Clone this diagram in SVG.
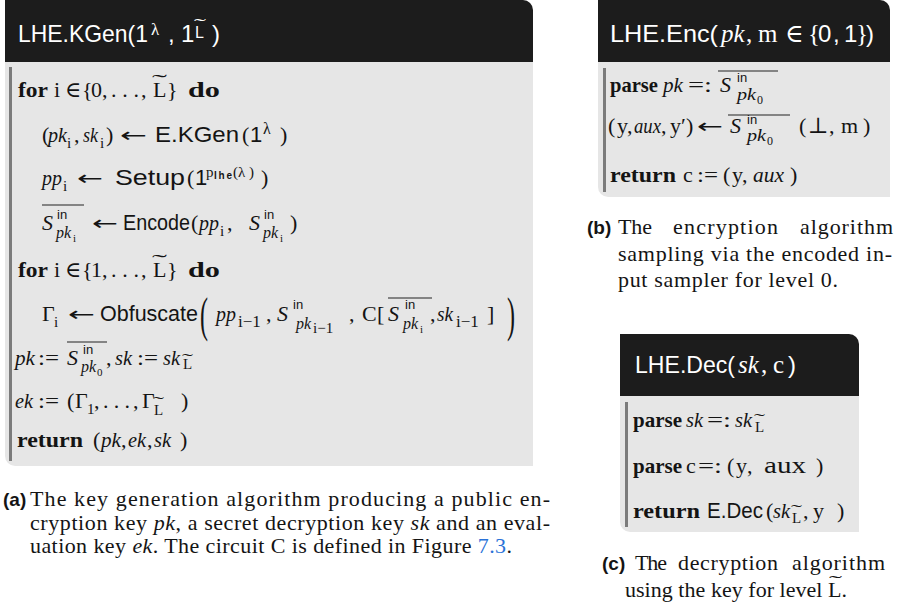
<svg xmlns="http://www.w3.org/2000/svg" width="899" height="608" viewBox="0 0 899 608">
<style>
.hd{fill:#1c1c1c}
.bd{fill:#e6e6e6}
.bar{fill:#7b7b7b}
text{font-family:"Liberation Serif","DejaVu Serif",serif;font-size:22px;fill:#141414}
.h{font-family:"Liberation Sans","DejaVu Sans",sans-serif;font-size:24px;fill:#fff}
.hs{font-size:25px;fill:#fff}
.sf{font-family:"Liberation Sans","DejaVu Sans",sans-serif;font-size:22px}
.ar{font-family:"DejaVu Sans",sans-serif;font-size:20px}
.it{font-style:italic}
.b{font-weight:bold}
.s{font-size:15px}
.ss{font-size:11px}
.in{font-family:"Liberation Sans","DejaVu Sans",sans-serif;font-size:13px}
.lhe{font-family:"Liberation Sans","DejaVu Sans",sans-serif;font-size:10px;font-weight:bold}
.ol{stroke:#222;stroke-width:1.2}
.lab{font-family:"Liberation Sans","DejaVu Sans",sans-serif;font-weight:bold;font-size:19px}
.lnk{fill:#2a72d8}
</style>

<g id="panel-a">
  <path class="hd" d="M5,0 H523 A10,10 0 0 1 533,10 V62 H5 Z"/>
  <path class="bd" d="M5,62 H533 V466 H15 A10,10 0 0 1 5,456 Z"/>
  <rect class="bar" x="9" y="67" width="3" height="394"/>
  <g id="a-title">
    <text class="h" x="18" y="42" textLength="130" lengthAdjust="spacingAndGlyphs">LHE.KGen(1</text>
    <text class="hs" x="151" y="35" style="font-size:17px">λ</text>
    <text class="h" x="168" y="42">,</text>
    <text class="h" x="181" y="42">1</text>
    <text class="h" x="195" y="38" style="font-size:16px">L</text>
    <text class="hs" x="194" y="30" style="font-size:16px" textLength="12" lengthAdjust="spacingAndGlyphs">˜</text>
    <text class="h" x="212" y="42">)</text>
  </g>
  <g id="a-line1">
    <text class="b" x="18" y="97" textLength="30" lengthAdjust="spacingAndGlyphs">for</text>
    <text x="54" y="97">i</text>
    <text x="65" y="97">∈</text>
    <text x="82" y="97">{</text>
    <text x="91" y="97">0</text>
    <text x="102" y="97">,</text>
    <text x="111" y="97" textLength="28">...</text>
    <text x="141" y="97">,</text>
    <text x="153" y="97">L</text>
    <text x="152" y="89" textLength="15" lengthAdjust="spacingAndGlyphs">˜</text>
    <text x="167" y="97">}</text>
    <text class="b" x="188" y="97" textLength="32" lengthAdjust="spacingAndGlyphs">do</text>
  </g>
  <g id="a-line2">
    <text x="42" y="142">(</text>
    <text class="it" x="48" y="142" textLength="19" lengthAdjust="spacingAndGlyphs">pk</text>
    <text class="s" x="67" y="148">i</text>
    <text x="74" y="142">,</text>
    <text class="it" x="83" y="142" textLength="15" lengthAdjust="spacingAndGlyphs">sk</text>
    <text class="s" x="100" y="148">i</text>
    <text x="106" y="142">)</text>
    <text class="ar" x="120" y="142" textLength="27" lengthAdjust="spacingAndGlyphs">←</text>
    <text class="sf" x="155" y="142" textLength="84" lengthAdjust="spacingAndGlyphs">E.KGen</text>
    <text x="242" y="142">(</text>
    <text class="sf" x="250" y="142">1</text>
    <text x="263" y="134" style="font-size:16px">λ</text>
    <text x="280" y="142">)</text>
  </g>
  <g id="a-line3">
    <text class="it" x="42" y="185" textLength="20" lengthAdjust="spacingAndGlyphs">pp</text>
    <text class="s" x="63" y="191">i</text>
    <text class="ar" x="77" y="185" textLength="26" lengthAdjust="spacingAndGlyphs">←</text>
    <text class="sf" x="115" y="185" textLength="70" lengthAdjust="spacingAndGlyphs">Setup</text>
    <text x="187" y="185">(</text>
    <text class="sf" x="195" y="185">1</text>
    <text class="s" x="206" y="177">p</text>
    <text class="lhe" x="214" y="179" textLength="18">lhe</text>
    <text class="s" x="233" y="177">(</text>
    <text class="s" x="238" y="177">λ</text>
    <text class="s" x="249" y="177">)</text>
    <text x="261" y="185">)</text>
  </g>
  <g id="a-line4">
    <line class="ol" x1="42" y1="205" x2="84" y2="205"/>
    <text class="it" x="42" y="230">S</text>
    <text class="in" x="57" y="219">in</text>
    <text class="it" x="56" y="238" style="font-size:16px">pk</text>
    <text class="ss" x="73" y="242">i</text>
    <text class="ar" x="92" y="230" textLength="26" lengthAdjust="spacingAndGlyphs">←</text>
    <text class="sf" x="123" y="230" textLength="67" lengthAdjust="spacingAndGlyphs">Encode</text>
    <text x="191" y="230">(</text>
    <text class="it" x="199" y="230" textLength="20" lengthAdjust="spacingAndGlyphs">pp</text>
    <text class="s" x="220" y="236">i</text>
    <text x="227" y="230">,</text>
    <text class="it" x="249" y="230">S</text>
    <text class="in" x="264" y="219">in</text>
    <text class="it" x="263" y="238" style="font-size:16px">pk</text>
    <text class="ss" x="280" y="242">i</text>
    <text x="290" y="230">)</text>
  </g>
  <g id="a-line5">
    <text class="b" x="18" y="277" textLength="30" lengthAdjust="spacingAndGlyphs">for</text>
    <text x="54" y="277">i</text>
    <text x="65" y="277">∈</text>
    <text x="82" y="277">{</text>
    <text x="91" y="277">1</text>
    <text x="102" y="277">,</text>
    <text x="111" y="277" textLength="28">...</text>
    <text x="141" y="277">,</text>
    <text x="153" y="277">L</text>
    <text x="152" y="269" textLength="15" lengthAdjust="spacingAndGlyphs">˜</text>
    <text x="167" y="277">}</text>
    <text class="b" x="188" y="277" textLength="32" lengthAdjust="spacingAndGlyphs">do</text>
  </g>
  <g id="a-line6">
    <text x="42" y="321">Γ</text>
    <text class="s" x="54" y="327">i</text>
    <text class="ar" x="68" y="321" textLength="27" lengthAdjust="spacingAndGlyphs">←</text>
    <text class="sf" x="100" y="321" textLength="98" lengthAdjust="spacingAndGlyphs">Obfuscate</text>
    <text transform="translate(200,331) scale(1,2)" style="font-size:24px">(</text>
    <text class="it" x="216" y="321" textLength="20" lengthAdjust="spacingAndGlyphs">pp</text>
    <text x="238" y="327" style="font-size:17px">i−1</text>
    <text x="266" y="321">,</text>
    <text class="it" x="277" y="321">S</text>
    <text class="in" x="293" y="309">in</text>
    <text class="it" x="296" y="329" style="font-size:16px">pk</text>
    <text x="313" y="333" style="font-size:15px">i−1</text>
    <text x="349" y="321">,</text>
    <text x="362" y="321">C</text>
    <text x="377" y="321">[</text>
    <line class="ol" x1="388" y1="298" x2="432" y2="298"/>
    <text class="it" x="388" y="321">S</text>
    <text class="in" x="405" y="309">in</text>
    <text class="it" x="403" y="329" style="font-size:16px">pk</text>
    <text class="ss" x="420" y="333">i</text>
    <text x="430" y="321">,</text>
    <text class="it" x="437" y="321" textLength="16" lengthAdjust="spacingAndGlyphs">sk</text>
    <text x="456" y="327" style="font-size:17px">i−1</text>
    <text x="487" y="321">]</text>
    <text transform="translate(507,331) scale(1,2)" style="font-size:24px">)</text>
  </g>
  <g id="a-line7">
    <text class="it" x="15" y="365" textLength="20" lengthAdjust="spacingAndGlyphs">pk</text>
    <text x="38" y="365" textLength="21" lengthAdjust="spacingAndGlyphs">:=</text>
    <line class="ol" x1="67" y1="342" x2="107" y2="342"/>
    <text class="it" x="67" y="365">S</text>
    <text class="in" x="83" y="354">in</text>
    <text class="it" x="81" y="372" style="font-size:16px">pk</text>
    <text class="ss" x="97" y="376">0</text>
    <text x="106" y="365">,</text>
    <text class="it" x="115" y="365" textLength="17" lengthAdjust="spacingAndGlyphs">sk</text>
    <text x="137" y="365" textLength="21" lengthAdjust="spacingAndGlyphs">:=</text>
    <text class="it" x="163" y="365" textLength="17" lengthAdjust="spacingAndGlyphs">sk</text>
    <text class="s" x="183" y="369">L</text>
    <text class="s" x="182" y="364" textLength="11" lengthAdjust="spacingAndGlyphs">˜</text>
  </g>
  <g id="a-line8">
    <text class="it" x="15" y="408" textLength="18" lengthAdjust="spacingAndGlyphs">ek</text>
    <text x="38" y="408" textLength="21" lengthAdjust="spacingAndGlyphs">:=</text>
    <text x="67" y="408">(</text>
    <text x="75" y="408">Γ</text>
    <text class="s" x="87" y="414">1</text>
    <text x="94" y="408">,</text>
    <text x="103" y="408" textLength="27">...</text>
    <text x="133" y="408">,</text>
    <text x="142" y="408">Γ</text>
    <text class="s" x="154" y="415">L</text>
    <text class="s" x="153" y="407" textLength="11" lengthAdjust="spacingAndGlyphs">˜</text>
    <text x="181" y="408">)</text>
  </g>
  <g id="a-line9">
    <text class="b" x="17" y="447" textLength="66" lengthAdjust="spacingAndGlyphs">return</text>
    <text x="93" y="447">(</text>
    <text class="it" x="101" y="447" textLength="20" lengthAdjust="spacingAndGlyphs">pk</text>
    <text x="121" y="447">,</text>
    <text class="it" x="128" y="447" textLength="18" lengthAdjust="spacingAndGlyphs">ek</text>
    <text x="147" y="447">,</text>
    <text class="it" x="154" y="447" textLength="17" lengthAdjust="spacingAndGlyphs">sk</text>
    <text x="180" y="447">)</text>
  </g>
  <g id="a-caption">
    <text class="lab" x="3" y="506">(a)</text>
    <text x="30" y="506" textLength="520">The key generation algorithm producing a public en-</text>
    <text x="30" y="530" textLength="520">cryption key <tspan class="it">pk</tspan>, a secret decryption key <tspan class="it">sk</tspan> and an eval-</text>
    <text x="30" y="553" textLength="482">uation key <tspan class="it">ek</tspan>. The circuit C is defined in Figure <tspan class="lnk">7.3</tspan>.</text>
  </g>
</g>

<g id="panel-b">
  <path class="hd" d="M598,0 H880 A10,10 0 0 1 890,10 V62 H598 Z"/>
  <path class="bd" d="M598,62 H890 V197 H608 A10,10 0 0 1 598,187 Z"/>
  <rect class="bar" x="603" y="68" width="3" height="124"/>
  <g id="b-title">
    <text class="h" x="610" y="42" textLength="108" lengthAdjust="spacingAndGlyphs">LHE.Enc(</text>
    <text class="hs it" x="721" y="42">pk</text>
    <text class="hs" x="746" y="42">,</text>
    <text class="hs" x="758" y="42">m</text>
    <text class="hs" x="785" y="42">∈</text>
    <text class="hs" x="808" y="42">{</text>
    <text class="h" x="818" y="42">0</text>
    <text class="h" x="833" y="42">,</text>
    <text class="h" x="844" y="42">1</text>
    <text class="hs" x="856" y="42">}</text>
    <text class="h" x="866" y="42">)</text>
  </g>
  <g id="b-line1">
    <text class="b" x="610" y="92" textLength="48" lengthAdjust="spacingAndGlyphs">parse</text>
    <text class="it" x="663" y="92" textLength="20" lengthAdjust="spacingAndGlyphs">pk</text>
    <text x="688" y="92" textLength="24" lengthAdjust="spacingAndGlyphs">=:</text>
    <line class="ol" x1="718" y1="71" x2="778" y2="71"/>
    <text class="it" x="720" y="92">S</text>
    <text class="in" x="737" y="82">in</text>
    <text class="it" x="737" y="100" style="font-size:17px" textLength="19" lengthAdjust="spacingAndGlyphs">pk</text>
    <text x="757" y="104" style="font-size:12px">0</text>
  </g>
  <g id="b-line2">
    <text x="608" y="133">(</text>
    <text x="617" y="133">y</text>
    <text x="627" y="133">,</text>
    <text class="it" x="634" y="133" textLength="27" lengthAdjust="spacingAndGlyphs">aux</text>
    <text x="661" y="133">,</text>
    <text x="670" y="133">y′</text>
    <text x="686" y="133">)</text>
    <text class="ar" x="697" y="133" textLength="26" lengthAdjust="spacingAndGlyphs">←</text>
    <line class="ol" x1="728" y1="115" x2="790" y2="115"/>
    <text class="it" x="730" y="133">S</text>
    <text class="in" x="747" y="124">in</text>
    <text class="it" x="747" y="141" style="font-size:17px" textLength="19" lengthAdjust="spacingAndGlyphs">pk</text>
    <text x="767" y="145" style="font-size:12px">0</text>
    <text x="799" y="133">(</text>
    <text x="808" y="133">⊥</text>
    <text x="829" y="133">,</text>
    <text x="841" y="133">m</text>
    <text x="863" y="133">)</text>
  </g>
  <g id="b-line3">
    <text class="b" x="610" y="182" textLength="66" lengthAdjust="spacingAndGlyphs">return</text>
    <text x="683" y="182">c</text>
    <text x="697" y="182" textLength="21" lengthAdjust="spacingAndGlyphs">:=</text>
    <text x="723" y="182">(</text>
    <text x="732" y="182">y</text>
    <text x="742" y="182">,</text>
    <text class="it" x="753" y="182" textLength="31" lengthAdjust="spacingAndGlyphs">aux</text>
    <text x="790" y="182">)</text>
  </g>
  <g id="b-caption">
    <text class="lab" x="587" y="234">(b)</text>
    <text x="618" y="234" textLength="34">The</text>
    <text x="673" y="234" textLength="105">encryption</text>
    <text x="800" y="234" textLength="93">algorithm</text>
    <text x="618" y="261" textLength="274">sampling via the encoded in-</text>
    <text x="618" y="287" textLength="220">put sampler for level 0.</text>
  </g>
</g>

<g id="panel-c">
  <path class="hd" d="M620,334 H849 A10,10 0 0 1 859,344 V396 H620 Z"/>
  <path class="bd" d="M620,396 H859 V532 H630 A10,10 0 0 1 620,522 Z"/>
  <rect class="bar" x="625" y="402" width="3" height="125"/>
  <g id="c-title">
    <text class="h" x="635" y="373" textLength="100" lengthAdjust="spacingAndGlyphs">LHE.Dec(</text>
    <text class="hs it" x="738" y="373">sk</text>
    <text class="hs" x="761" y="373">,</text>
    <text class="hs" x="773" y="373">c</text>
    <text class="h" x="788" y="373">)</text>
  </g>
  <g id="c-line1">
    <text class="b" x="633" y="427" textLength="49" lengthAdjust="spacingAndGlyphs">parse</text>
    <text class="it" x="686" y="427" textLength="17" lengthAdjust="spacingAndGlyphs">sk</text>
    <text x="707" y="427" textLength="24" lengthAdjust="spacingAndGlyphs">=:</text>
    <text class="it" x="735" y="427" textLength="17" lengthAdjust="spacingAndGlyphs">sk</text>
    <text class="s" x="755" y="432">L</text>
    <text class="s" x="754" y="424" textLength="11" lengthAdjust="spacingAndGlyphs">˜</text>
  </g>
  <g id="c-line2">
    <text class="b" x="633" y="473" textLength="49" lengthAdjust="spacingAndGlyphs">parse</text>
    <text x="686" y="473">c</text>
    <text x="698" y="473" textLength="24" lengthAdjust="spacingAndGlyphs">=:</text>
    <text x="727" y="473">(</text>
    <text x="736" y="473">y</text>
    <text x="747" y="473">,</text>
    <text x="764" y="473" style="font-size:24px" textLength="42" lengthAdjust="spacingAndGlyphs">aux</text>
    <text x="816" y="473">)</text>
  </g>
  <g id="c-line3">
    <text class="b" x="633" y="518" textLength="67" lengthAdjust="spacingAndGlyphs">return</text>
    <text class="sf" x="707" y="518" textLength="56" lengthAdjust="spacingAndGlyphs">E.Dec</text>
    <text x="766" y="518">(</text>
    <text class="it" x="773" y="518" textLength="17" lengthAdjust="spacingAndGlyphs">sk</text>
    <text class="s" x="792" y="523">L</text>
    <text class="s" x="791" y="515" textLength="11" lengthAdjust="spacingAndGlyphs">˜</text>
    <text x="803" y="518">,</text>
    <text x="813" y="518">y</text>
    <text x="837" y="518">)</text>
  </g>
  <g id="c-caption">
    <text class="lab" x="602" y="570">(c)</text>
    <text x="635" y="570" textLength="32">The</text>
    <text x="678" y="570" textLength="100">decryption</text>
    <text x="792" y="570" textLength="93">algorithm</text>
    <text x="625" y="597" textLength="222">using the key for level L.</text>
    <text x="829" y="587" style="font-size:17px" textLength="13" lengthAdjust="spacingAndGlyphs">˜</text>
  </g>
</g>
</svg>
